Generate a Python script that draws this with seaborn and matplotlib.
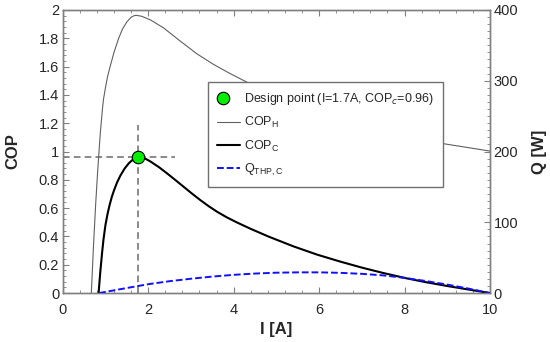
import matplotlib
matplotlib.use("Agg")
import matplotlib.pyplot as plt
import pandas as pd
import seaborn as sns
from matplotlib.ticker import MultipleLocator, FormatStrFormatter
from matplotlib.lines import Line2D
from matplotlib.legend_handler import HandlerBase

# values
i_cop_h = [0.67, 0.72, 0.77, 0.82, 0.88, 0.93, 0.955, 1.0, 1.05, 1.11, 1.2, 1.31,
           1.4, 1.5, 1.6, 1.66, 1.72, 1.85, 2.05, 2.36, 2.75, 3.14, 3.53, 3.92, 4.27,
           5.0, 5.5, 6.0, 6.5, 7.0, 7.5, 8.0, 8.5, 8.85, 10.0]
cop_h = [0.0, 0.33, 0.62, 0.87, 1.13, 1.30, 1.37, 1.45, 1.53, 1.60, 1.70, 1.80,
         1.865, 1.915, 1.948, 1.958, 1.962, 1.955, 1.93, 1.873, 1.78, 1.69, 1.615, 1.55, 1.496,
         1.385, 1.32, 1.26, 1.21, 1.165, 1.127, 1.097, 1.073, 1.058, 1.003]

i_cop_c = [0.84, 0.88, 0.92, 0.955, 1.0, 1.05, 1.1, 1.15, 1.2, 1.27, 1.35, 1.45,
           1.55, 1.65, 1.76, 1.9, 2.05, 2.25, 2.44, 2.63, 2.83, 3.02, 3.22, 3.41,
           3.61, 3.84, 4.07, 4.39, 4.81, 5.4, 5.95, 6.5, 7.0, 7.5, 8.05, 8.5, 9.0,
           9.5, 10.0]
cop_c = [0.0, 0.15, 0.28, 0.38, 0.48, 0.56, 0.625, 0.68, 0.725, 0.78, 0.83, 0.88,
         0.918, 0.945, 0.962, 0.955, 0.93, 0.89, 0.846, 0.80, 0.751, 0.704, 0.657, 0.615,
         0.575, 0.535, 0.500, 0.455, 0.400, 0.330, 0.272, 0.222, 0.180, 0.142, 0.104, 0.077, 0.05,
         0.025, 0.0]

i_q = [0.85, 1.3, 1.76, 2.05, 2.5, 3.0, 3.5, 4.0, 4.5, 5.0, 5.5, 6.0, 6.5,
       7.0, 7.5, 8.0, 8.5, 9.0, 9.5, 10.0]
q_thp_c = [0, 5, 10, 13, 16.8, 20.3, 23.3, 25.8, 27.6, 28.8, 29.3, 29.3, 28.6,
           27.2, 25.0, 21.5, 17, 12, 6.3, 0]

design_i = 1.76
design_cop = 0.962


class MarkerLeft(HandlerBase):
    # legend marker drawn at the left end of the handle box
    def create_artists(self, legend, orig_handle, xdescent, ydescent, width, height,
                       fontsize, trans):
        m = Line2D([-xdescent + 0.25 * width], [-ydescent + height / 2], ls="none",
                   marker="o", ms=9, mfc="#00ee00", mec="black", mew=0.8, transform=trans)
        return [m]


sns.set_style("ticks")
plt.rcParams['font.family'] = ['Liberation Sans', 'DejaVu Sans']

df_h = pd.DataFrame({"I": i_cop_h, "COP": cop_h})
df_c = pd.DataFrame({"I": i_cop_c, "COP": cop_c})
df_q = pd.DataFrame({"I": i_q, "Q": q_thp_c})

fig, ax = plt.subplots(figsize=(5.5, 3.42), dpi=100)
fig.subplots_adjust(left=0.114, right=0.891, top=0.971, bottom=0.143)
ax2 = ax.twinx()

# crosshair at the design point
ax.plot([0, 2.63], [design_cop, design_cop], ls=(0, (4, 2.5)), color="#777777", lw=1.2, zorder=2)
ax.plot([design_i, design_i], [0, 1.19], ls=(0, (4, 2.5)), color="#777777", lw=1.2, zorder=2)

sns.lineplot(data=df_h, x="I", y="COP", ax=ax, color="#606060", lw=0.8, zorder=3)
sns.lineplot(data=df_c, x="I", y="COP", ax=ax, color="black", lw=1.5, zorder=3)
sns.lineplot(data=df_q, x="I", y="Q", ax=ax2, color="#1010ff", lw=1.4,
             linestyle=(0, (3.5, 1.5)), zorder=3)
ax.plot([design_i], [design_cop], "o", ms=9, mfc="#00ee00", mec="black", mew=0.8, zorder=5)

ax.set_xlim(0, 10)
ax.set_ylim(0, 2)
ax2.set_ylim(0, 400)

ax.xaxis.set_major_locator(MultipleLocator(2))
ax.xaxis.set_minor_locator(MultipleLocator(0.4))
ax.yaxis.set_major_locator(MultipleLocator(0.2))
ax.yaxis.set_minor_locator(MultipleLocator(0.04))
ax2.yaxis.set_major_locator(MultipleLocator(100))
ax2.yaxis.set_minor_locator(MultipleLocator(10))
ax.xaxis.set_major_formatter(FormatStrFormatter("%g"))
ax.yaxis.set_major_formatter(FormatStrFormatter("%g"))
ax2.yaxis.set_major_formatter(FormatStrFormatter("%g"))

ax.tick_params(axis="x", which="both", direction="in", top=True, pad=7, labelsize=10.5,
               color="#808080")
ax.tick_params(axis="y", which="both", direction="in", right=False, pad=2.5, labelsize=10.5,
               color="#808080")
ax2.tick_params(axis="y", which="both", direction="in", pad=2.5, labelsize=10.5,
                color="#808080")
for a in (ax, ax2):
    a.tick_params(which="major", length=4, width=0.8)
    a.tick_params(which="minor", length=2, width=0.6)
    for s in a.spines.values():
        s.set_color("#808080")
        s.set_linewidth(1.0)

ax.set_xlabel("I [A]", fontsize=12, fontweight="bold", labelpad=4)
ax.set_ylabel("COP", fontsize=12, fontweight="bold", labelpad=13)
ax2.set_ylabel("Q [W]", fontsize=12, fontweight="bold", labelpad=10)

design_handle = Line2D([], [], ls="none", marker="o")
handles = [
    design_handle,
    Line2D([], [], color="#606060", lw=0.8),
    Line2D([], [], color="black", lw=1.5),
    Line2D([], [], color="#1010ff", lw=1.4, linestyle=(0, (3.5, 1.5))),
]
labels = ["Design point (I=1.7A, COP$_c$=0.96)", "COP$_\\mathregular{H}$",
          "COP$_\\mathregular{C}$", "Q$_\\mathregular{THP,C}$"]
leg = ax2.legend(handles, labels, loc="upper left", bbox_to_anchor=(0.34, 0.746),
                 borderaxespad=0, fontsize=9, frameon=True, fancybox=False,
                 edgecolor="#707070", framealpha=1, handlelength=1.8,
                 handletextpad=0.3, labelspacing=0.65, borderpad=0.75,
                 handler_map={design_handle: MarkerLeft()})
leg.get_frame().set_linewidth(1.0)

fig.savefig("out.png", dpi=100)
